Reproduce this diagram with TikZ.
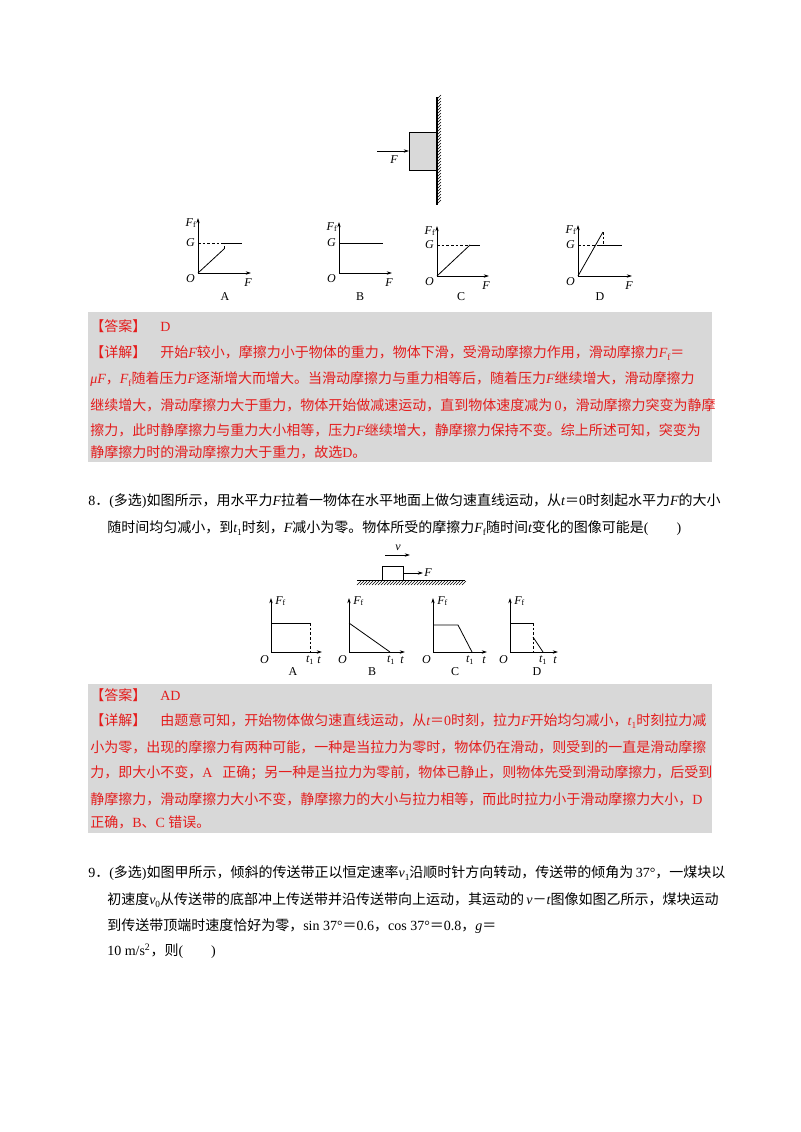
\documentclass[tikz,border=0pt]{standalone}
\usepackage{fontspec}
\usetikzlibrary{arrows.meta}
\setmainfont{Noto Sans CJK SC}
\newfontfamily\lser{Liberation Serif}
\newcommand\mi[1]{{\lser\itshape #1}}
\newcommand\rl[1]{{\lser #1}}
\newcommand\sbs[1]{\raisebox{-0.35ex}{\scriptsize\lser #1}}
\definecolor{ansred}{RGB}{228,28,28}
\definecolor{boxgrey}{RGB}{216,216,216}
\XeTeXlinebreaklocale "zh"
\XeTeXlinebreakskip=0pt plus 4pt
\begin{document}
\begin{tikzpicture}[x=0.75pt,y=-0.75pt,
  txt/.style={anchor=west,inner sep=0pt,font=\fontsize{10.5pt}{12pt}\selectfont},
  lab/.style={inner sep=0pt,font=\fontsize{9pt}{10pt}\selectfont\lser},
  ax/.style={line width=0.5pt,-{Stealth[length=4pt,width=2.5pt]}},
  cur/.style={line width=0.6pt},
  dsh/.style={line width=0.5pt,dashed,dash pattern=on 2pt off 1.5pt}]
\useasboundingbox (0,0) rectangle (800,1132);
\fill[white] (0,0) rectangle (800,1132);
% ---------- wall figure
\fill[gray!30,draw=black,line width=0.5pt] (409,132) rectangle (437,170);
\draw[line width=0.8pt] (437,97) -- (437,205);
\foreach \yy in {99,102,...,205} \draw[line width=0.3pt] (437,\yy) -- (441,\yy-4);
\coordinate (fa) at (377,151); \coordinate (fb) at (409,151);
\draw[ax] (fa) -- (fb);
\node[lab,font=\fontsize{9pt}{10pt}\selectfont\lser\itshape] (fl) at (394,160) {F};
% ---------- graphs A-D (Q7)
\newcommand\axesF[4]{%
  \draw[ax] (#1,#2) -- (#1,#3); \draw[ax] (#1,#2) -- (#4,#2);
  \node[lab,anchor=east] at (#1-3,#2+6) {\itshape O};
  \node[lab] at (#1-7,#3+5) {\itshape F\textsubscript{\upshape f}};
  \node[lab] at (#4-3,#2+10) {\itshape F};}
\axesF{198}{273}{218}{251}
\draw[dsh] (198,243) -- (224,243); \draw[cur] (224,243) -- (242,243);
\draw[cur] (198,273) -- (224,249); \draw[dsh] (224,249) -- (224,243);
\node[lab,anchor=east] at (195,243) {\itshape G};
\node[lab] at (225,297) {A};
\axesF{339}{273}{222}{392}
\draw[cur] (339,243) -- (383,243);
\node[lab,anchor=east] at (336,243) {\itshape G};
\node[lab] at (360,297) {B};
\axesF{437}{276}{226}{489}
\draw[dsh] (437,245) -- (470,245); \draw[cur] (470,245) -- (480,245);
\draw[cur] (437,276) -- (470,245);
\node[lab,anchor=east] at (434,245) {\itshape G};
\node[lab] at (461,297) {C};
\axesF{578}{276}{225}{632}
\draw[dsh] (578,245) -- (597,245); \draw[cur] (597,245) -- (622,245);
\draw[cur] (578,276) -- (603,232); \draw[dsh] (603,232) -- (603,245);
\node[lab,anchor=east] at (575,245) {\itshape G};
\node[lab] at (600,297) {D};
% ---------- answer box 1
\fill[boxgrey] (88,312) rectangle (712,462);
\begin{scope}[color=ansred,text=ansred]
\node[txt] at (90,326) {【答案】\quad\rl{D}};
\node[txt] at (90,353) {\hbox to 466.5pt{【详解】\quad 开始\mi{F}较小，摩擦力小于物体的重力，物体下滑，受滑动摩擦力作用，滑动摩擦力\mi{F}\sbs{f}＝}};
\node[txt] at (90,379) {\hbox to 466.5pt{\mi{μF}，\mi{F}\sbs{f}随着压力\mi{F}逐渐增大而增大。当滑动摩擦力与重力相等后，随着压力\mi{F}继续增大，滑动摩擦力}};
\node[txt] at (90,405) {\hbox to 466.5pt{继续增大，滑动摩擦力大于重力，物体开始做减速运动，直到物体速度减为\rl{ 0}，滑动摩擦力突变为静摩}};
\node[txt] at (90,430) {\hbox to 466.5pt{擦力，此时静摩擦力与重力大小相等，压力\mi{F}继续增大，静摩擦力保持不变。综上所述可知，突变为}};
\node[txt] at (90,452) {静摩擦力时的滑动摩擦力大于重力，故选\rl{D}。};
\end{scope}
% ---------- question 8
\node[txt] at (88,501) {\hbox to 468pt{\rl{8}．\rl{(}多选\rl{)}如图所示，用水平力\mi{F}拉着一物体在水平地面上做匀速直线运动，从\mi{t}＝\rl{0}时刻起水平力\mi{F}的大小}};
\node[txt] at (107,528) {随时间均匀减小，到\mi{t}\sbs{1}时刻，\mi{F}减小为零。物体所受的摩擦力\mi{F}\sbs{f}随时间\mi{t}变化的图像可能是\rl{(\qquad)}};
% block on ground
\coordinate (va) at (385,555); \coordinate (vb) at (410,555);
\draw[ax] (va) -- (vb);
\node[lab] at (398,548) {\itshape v};
\draw[line width=0.5pt] (382,566) rectangle (403,580);
\coordinate (ga) at (403,573); \coordinate (gb) at (423,573);
\draw[ax] (ga) -- (gb);
\node[lab,anchor=west] at (424,573) {\itshape F};
\draw[line width=0.6pt] (357,580) -- (465,580);
\foreach \xx in {357,360,...,462} \draw[line width=0.3pt] (\xx,585) -- (\xx+4,581);
% graphs Q8
\newcommand\axesT[4]{%
  \draw[ax] (#1,#2) -- (#1,#3); \draw[ax] (#1,#2) -- (#4,#2);
  \node[lab,anchor=east] at (#1-2,#2+8) {\itshape O};
  \node[lab,anchor=west] at (#1+4,#3+3) {\itshape F\textsubscript{\upshape f}};
  \node[lab] at (#4-3,#2+8) {\itshape t};}
\axesT{271}{652}{598}{322}
\draw[cur] (271,623) -- (310,623); \draw[dsh] (310,623) -- (310,652);
\node[lab] at (310,660) {\itshape t\textsubscript{\upshape 1}};
\node[lab] at (293,672) {A};
\axesT{349}{652}{598}{405}
\draw[cur] (349,623) -- (390,652);
\node[lab] at (391,660) {\itshape t\textsubscript{\upshape 1}};
\node[lab] at (372,672) {B};
\axesT{433}{652}{598}{487}
\draw[cur] (433,625) -- (458,625) -- (472,652);
\node[lab] at (470,660) {\itshape t\textsubscript{\upshape 1}};
\node[lab] at (455,672) {C};
\axesT{510}{652}{598}{558}
\draw[cur] (510,623) -- (533,623); \draw[dsh] (533,623) -- (533,652);
\draw[cur] (533,637) -- (543,652);
\node[lab] at (543,660) {\itshape t\textsubscript{\upshape 1}};
\node[lab] at (537,672) {D};
% ---------- answer box 2
\fill[boxgrey] (88,684) rectangle (712,833);
\begin{scope}[color=ansred,text=ansred]
\node[txt] at (90,695) {【答案】\quad\rl{AD}};
\node[txt] at (90,721) {\hbox to 466.5pt{【详解】\quad 由题意可知，开始物体做匀速直线运动，从\mi{t}＝\rl{0}时刻，拉力\mi{F}开始均匀减小，\mi{t}\sbs{1}时刻拉力减}};
\node[txt] at (90,747) {\hbox to 466.5pt{小为零，出现的摩擦力有两种可能，一种是当拉力为零时，物体仍在滑动，则受到的一直是滑动摩擦}};
\node[txt] at (90,773) {\hbox to 466.5pt{力，即大小不变，\rl{A }正确；另一种是当拉力为零前，物体已静止，则物体先受到滑动摩擦力，后受到}};
\node[txt] at (90,799) {\hbox to 466.5pt{静摩擦力，滑动摩擦力大小不变，静摩擦力的大小与拉力相等，而此时拉力小于滑动摩擦力大小，\rl{D}}};
\node[txt] at (90,822) {正确，\rl{B}、\rl{C }错误。};
\end{scope}
% ---------- question 9
\node[txt] at (88,873) {\hbox to 468pt{\rl{9}．\rl{(}多选\rl{)}如图甲所示，倾斜的传送带正以恒定速率\mi{v}\sbs{1}沿顺时针方向转动，传送带的倾角为\rl{ 37°}，一煤块以}};
\node[txt] at (107,900) {\hbox to 454pt{初速度\mi{v}\sbs{0}从传送带的底部冲上传送带并沿传送带向上运动，其运动的\mi{ v}－\mi{t}图像如图乙所示，煤块运动}};
\node[txt] at (107,926) {到传送带顶端时速度恰好为零，\rl{sin 37°}＝\rl{0.6}，\rl{cos 37°}＝\rl{0.8}，\mi{g}＝};
\node[txt] at (107,951) {\rl{10 m/s\textsuperscript{2}}，则\rl{(\qquad)}};
\end{tikzpicture}
\end{document}
